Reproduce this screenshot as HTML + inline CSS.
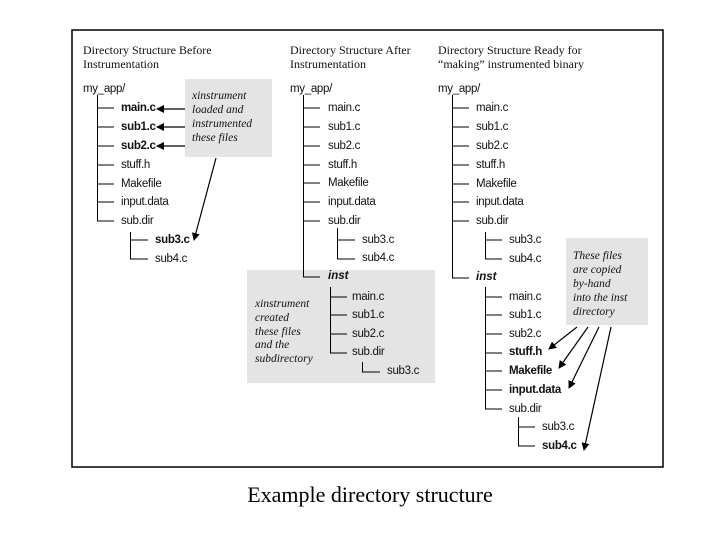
<!DOCTYPE html>
<html><head><meta charset="utf-8"><style>
html,body{margin:0;padding:0;background:#fff;}
svg{display:block;}
.s{font-family:"Liberation Sans",sans-serif;font-size:11.5px;fill:#111;letter-spacing:-0.3px;}
.b{font-weight:bold;}
.t{font-family:"Liberation Serif",serif;font-size:12px;fill:#111;}
.i{font-family:"Liberation Serif",serif;font-style:italic;font-size:11.5px;fill:#111;}
.bi{font-family:"Liberation Sans",sans-serif;font-style:italic;font-weight:bold;font-size:11.5px;fill:#111;}
</style></head><body>
<svg width="720" height="540" viewBox="0 0 720 540" xmlns="http://www.w3.org/2000/svg">
<defs><marker id="a" markerWidth="8" markerHeight="8" refX="7" refY="4" orient="auto" markerUnits="userSpaceOnUse"><path d="M0,0 L8,4 L0,8 z" fill="#000"/></marker></defs>
<rect x="72" y="30" width="591" height="437" fill="#fff" stroke="#000" stroke-width="1.5"/>
<!-- gray boxes -->
<rect x="185" y="79" width="87" height="78" fill="#e4e4e4"/>
<rect x="247" y="270" width="188" height="113" fill="#e4e4e4"/>
<rect x="566" y="238" width="82" height="87" fill="#e4e4e4"/>

<g stroke="#000" stroke-width="1" fill="none">
<!-- col1 -->
<path d="M97.5 95 V221 M97 108H114 M97 127H114 M97 146H114 M97 165H114 M97 184H114 M97 202H114 M97 221H114"/>
<path d="M130.5 232 V259 M130 240H148 M130 259H148"/>
<!-- col2 -->
<path d="M303.5 95 V277 M303 108H320 M303 127H320 M303 146H320 M303 165H320 M303 183H320 M303 202H320 M303 221H320 M303 277H320"/>
<path d="M337.5 228 V259 M337 240H355 M337 259H355"/>
<path d="M330.5 287 V353 M330 297H347 M330 315H347 M330 334H347 M330 353H347"/>
<path d="M362.5 362 V372 M362 372H380"/>
<!-- col3 -->
<path d="M452.5 95 V278 M452 108H469 M452 127H469 M452 146H469 M452 165H469 M452 184H469 M452 202H469 M452 221H469 M452 278H469"/>
<path d="M485.5 232 V259 M485 240H502 M485 259H502"/>
<path d="M485.5 287 V409 M485 297H502 M485 315H502 M485 334H502 M485 353H502 M485 371H502 M485 390H502 M485 409H502"/>
<path d="M518.5 417 V446 M518 427H535 M518 446H535"/>
</g>
<!-- arrows -->
<g stroke="#000" stroke-width="1.2" fill="none">
<line x1="185" y1="109" x2="157" y2="109" marker-end="url(#a)"/>
<line x1="185" y1="127" x2="157" y2="127" marker-end="url(#a)"/>
<line x1="185" y1="146" x2="157" y2="146" marker-end="url(#a)"/>
<line x1="216" y1="158" x2="194" y2="240" marker-end="url(#a)"/>
<line x1="577" y1="327" x2="549" y2="349" marker-end="url(#a)"/>
<line x1="588" y1="327" x2="559" y2="368" marker-end="url(#a)"/>
<line x1="599" y1="327" x2="569" y2="388" marker-end="url(#a)"/>
<line x1="611" y1="327" x2="584" y2="450" marker-end="url(#a)"/>
</g>

<!-- col1 text -->
<text class="t" x="83" y="54">Directory Structure Before</text>
<text class="t" x="83" y="68">Instrumentation</text>
<text class="s" x="83" y="92">my_app/</text>
<text class="s b" x="121" y="111">main.c</text>
<text class="s b" x="121" y="130">sub1.c</text>
<text class="s b" x="121" y="149">sub2.c</text>
<text class="s" x="121" y="168">stuff.h</text>
<text class="s" x="121" y="187">Makefile</text>
<text class="s" x="121" y="205">input.data</text>
<text class="s" x="121" y="224">sub.dir</text>
<text class="s b" x="155" y="243">sub3.c</text>
<text class="s" x="155" y="262">sub4.c</text>
<text class="i" x="192" y="99">xinstrument</text>
<text class="i" x="192" y="113">loaded and</text>
<text class="i" x="192" y="127">instrumented</text>
<text class="i" x="192" y="141">these files</text>

<!-- col2 text -->
<text class="t" x="290" y="54">Directory Structure After</text>
<text class="t" x="290" y="68">Instrumentation</text>
<text class="s" x="290" y="92">my_app/</text>
<text class="s" x="328" y="111">main.c</text>
<text class="s" x="328" y="130">sub1.c</text>
<text class="s" x="328" y="149">sub2.c</text>
<text class="s" x="328" y="168">stuff.h</text>
<text class="s" x="328" y="186">Makefile</text>
<text class="s" x="328" y="205">input.data</text>
<text class="s" x="328" y="224">sub.dir</text>
<text class="s" x="362" y="243">sub3.c</text>
<text class="s" x="362" y="261">sub4.c</text>
<text class="bi" x="328" y="279">inst</text>
<text class="s" x="352" y="300">main.c</text>
<text class="s" x="352" y="318">sub1.c</text>
<text class="s" x="352" y="337">sub2.c</text>
<text class="s" x="352" y="355">sub.dir</text>
<text class="s" x="387" y="374">sub3.c</text>
<text class="i" x="255" y="307">xinstrument</text>
<text class="i" x="255" y="321">created</text>
<text class="i" x="255" y="335">these files</text>
<text class="i" x="255" y="348">and the</text>
<text class="i" x="255" y="362">subdirectory</text>

<!-- col3 text -->
<text class="t" x="438" y="54">Directory Structure Ready for</text>
<text class="t" x="438" y="68">“making” instrumented binary</text>
<text class="s" x="438" y="92">my_app/</text>
<text class="s" x="476" y="111">main.c</text>
<text class="s" x="476" y="130">sub1.c</text>
<text class="s" x="476" y="149">sub2.c</text>
<text class="s" x="476" y="168">stuff.h</text>
<text class="s" x="476" y="187">Makefile</text>
<text class="s" x="476" y="205">input.data</text>
<text class="s" x="476" y="224">sub.dir</text>
<text class="s" x="509" y="243">sub3.c</text>
<text class="s" x="509" y="262">sub4.c</text>
<text class="bi" x="476" y="280">inst</text>
<text class="s" x="509" y="300">main.c</text>
<text class="s" x="509" y="318">sub1.c</text>
<text class="s" x="509" y="337">sub2.c</text>
<text class="s b" x="509" y="355">stuff.h</text>
<text class="s b" x="509" y="374">Makefile</text>
<text class="s b" x="509" y="393">input.data</text>
<text class="s" x="509" y="412">sub.dir</text>
<text class="s" x="542" y="430">sub3.c</text>
<text class="s b" x="542" y="449">sub4.c</text>
<text class="i" x="573" y="259">These files</text>
<text class="i" x="573" y="273">are copied</text>
<text class="i" x="573" y="287">by-hand</text>
<text class="i" x="573" y="301">into the inst</text>
<text class="i" x="573" y="315">directory</text>

<text x="370" y="502" text-anchor="middle" style="font-family:'Liberation Serif',serif;font-size:22px;fill:#000;">Example directory structure</text>
</svg>
</body></html>
